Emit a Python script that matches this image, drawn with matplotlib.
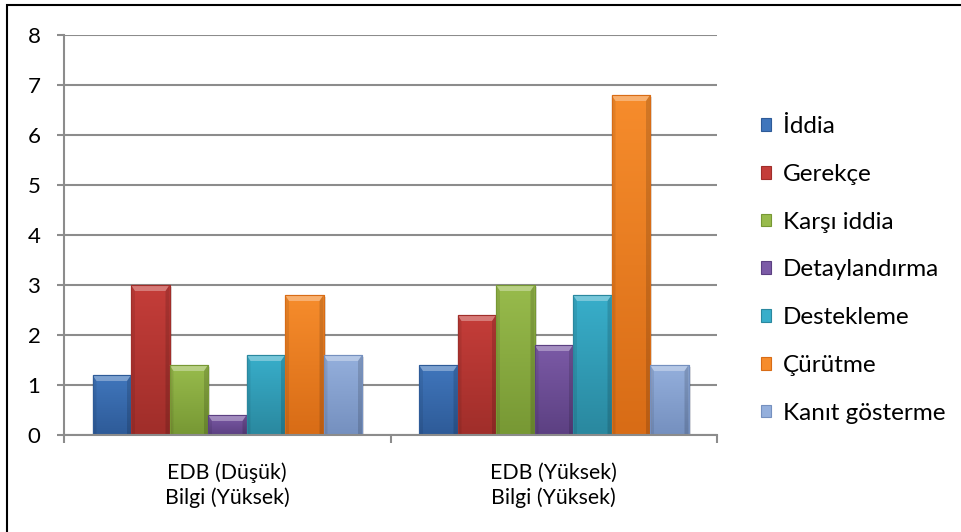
import numpy as np
import matplotlib.pyplot as plt
from matplotlib.patches import Polygon, Rectangle
from matplotlib.colors import LinearSegmentedColormap

plt.rcParams['font.family'] = ['Lato', 'DejaVu Sans']

categories = ['EDB (Düşük)\nBilgi (Yüksek)', 'EDB (Yüksek)\nBilgi (Yüksek)']
series = ['İddia', 'Gerekçe', 'Karşı iddia', 'Detaylandırma',
          'Destekleme', 'Çürütme', 'Kanıt gösterme']
iddia = [1.2, 1.4]
gerekce = [3.0, 2.4]
karsi_iddia = [1.4, 3.0]
detaylandirma = [0.4, 1.8]
destekleme = [1.6, 2.8]
curutme = [2.8, 6.8]
kanit = [1.6, 1.4]
values = [iddia, gerekce, karsi_iddia, detaylandirma, destekleme, curutme, kanit]

# top / bottom shades for each series (office 2007 look)
tops = ['#4076BC', '#C43D39', '#98BB4C', '#7B5AA6', '#38AECA', '#F68C2C', '#94AFDC']
bottoms = ['#2E5B98', '#A02E2A', '#779834', '#5C4082', '#2A889F', '#D86C16', '#7590BF']

W, H = 961, 532
fig = plt.figure(figsize=(W / 100, H / 100), dpi=100)
left, right, bottom, top = 64, 717, 435, 35
ax = fig.add_axes([left / W, 1 - bottom / H, (right - left) / W, (bottom - top) / H])

ax.set_xlim(-0.5, 1.5)
ax.set_ylim(0, 8)
px_x = (right - left) / 2.0
px_y = (bottom - top) / 8.0

grid_c = '#8C8C8C'
ax.set_yticks(range(9))
ax.yaxis.grid(True, color=grid_c, lw=1.5)
ax.set_axisbelow(True)
for s in ['top', 'right']:
    ax.spines[s].set_visible(False)
for s in ['left', 'bottom']:
    ax.spines[s].set_color(grid_c)
    ax.spines[s].set_linewidth(1.5)
ax.tick_params(axis='y', length=5, width=1.5, color=grid_c, pad=12, labelsize=16)
ax.set_xticks([0, 1])
ax.set_xticklabels(categories, fontsize=15.3, linespacing=1.25)
ax.tick_params(axis='x', length=0, pad=20)
ax.set_xticks([-0.5, 0.5, 1.5], minor=True)
ax.tick_params(axis='x', which='minor', length=6, width=1.5, color=grid_c)

bw = 38.5 / px_x
bx = 4 / px_x
by = 6 / px_y
sx = 2 / px_x
n = len(series)
handles = []
for j, (name, vals) in enumerate(zip(series, values)):
    cmap = LinearSegmentedColormap.from_list(name, [bottoms[j], tops[j]])
    xs = np.arange(len(categories)) + (j - (n - 1) / 2) * bw
    bars = ax.bar(xs, vals, width=bw, color=tops[j], edgecolor=bottoms[j],
                  linewidth=0.8, zorder=2, label=name)
    for b in bars:
        x0, x1, h = b.get_x(), b.get_x() + b.get_width(), b.get_height()
        # soft shadow to the right
        ax.add_patch(Rectangle((x0 + sx, 0), x1 - x0, h - 0.03, fc='black',
                               alpha=0.12, lw=0, zorder=1.9))
        grad = np.linspace(0, 1, 64).reshape(-1, 1)
        ax.imshow(grad, extent=(x0, x1, 0, h), origin='lower', cmap=cmap,
                  aspect='auto', zorder=2.1, interpolation='bilinear')
        # bevel edges
        ax.add_patch(Polygon([(x0, h), (x1, h), (x1 - bx, h - by), (x0 + bx, h - by)],
                             closed=True, fc='white', alpha=0.32, lw=0, zorder=2.2))
        ax.add_patch(Polygon([(x0, 0), (x0, h), (x0 + bx, h - by), (x0 + bx, 0)],
                             closed=True, fc='black', alpha=0.08, lw=0, zorder=2.2))
        ax.add_patch(Polygon([(x1, 0), (x1, h), (x1 - bx, h - by), (x1 - bx, 0)],
                             closed=True, fc='black', alpha=0.14, lw=0, zorder=2.2))
        ax.add_patch(Rectangle((x0, 0), x1 - x0, h, fc='none', ec=bottoms[j],
                               lw=0.8, zorder=2.3))
    handles.append(Rectangle((0, 0), 1, 1, fc=tops[j], ec=bottoms[j], lw=0.8))

ax.legend(handles, series, loc='center left', bbox_to_anchor=(761 / W, 1 - 270 / H),
          bbox_transform=fig.transFigure, frameon=False, fontsize=17.5,
          handlelength=0.43, handleheight=0.43, handletextpad=0.47,
          labelspacing=1.1, borderaxespad=0, borderpad=0)

# chart border
fig.add_artist(Rectangle((7 / W, -0.1), 1.2, 1 - 5 / H + 0.1, transform=fig.transFigure,
                         fill=False, ec='black', lw=1.5))

fig.savefig('out.png', dpi=100)
